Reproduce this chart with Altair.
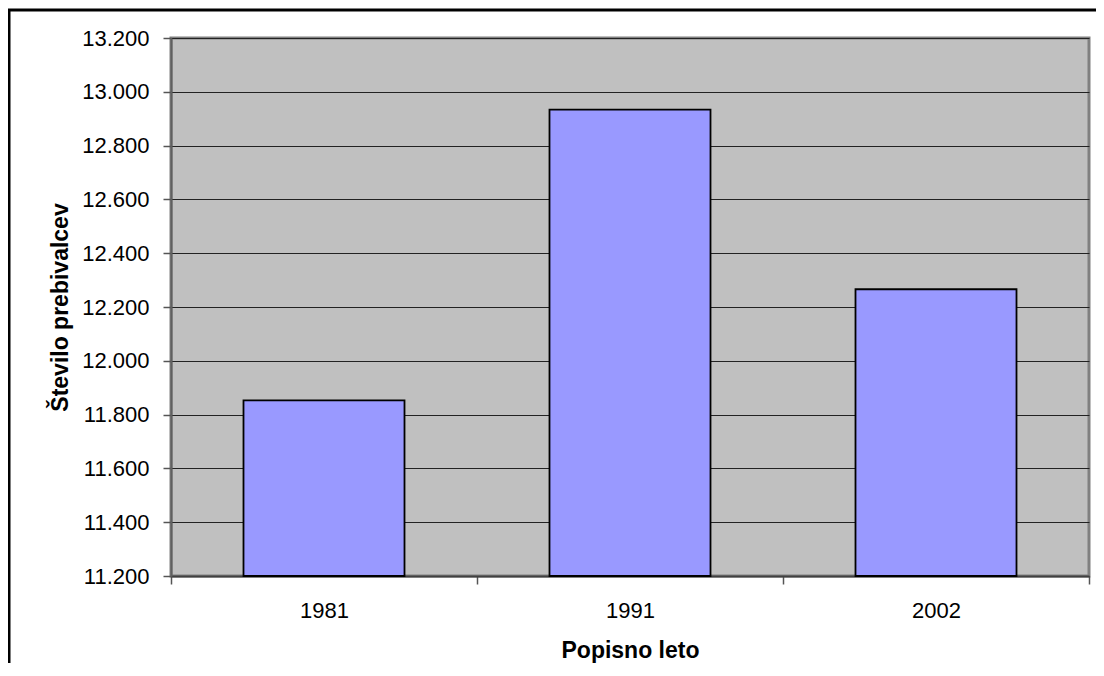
import altair as alt
import pandas as pd

years = ["1981", "1991", "2002"]
population = [11853, 12934, 12266]
y_ticks = [11200, 11400, 11600, 11800, 12000, 12200, 12400, 12600, 12800, 13000, 13200]
Y_MIN, Y_MAX = 11200, 13200

df = pd.DataFrame({"leto": years, "prebivalci": population})

FONT = "Liberation Sans"

bars = alt.Chart(df).mark_bar(
    color="#9999FF", stroke="black", strokeWidth=1.8, width=161
).encode(
    x=alt.X(
        "leto:N",
        sort=years,
        title="Popisno leto",
        scale=alt.Scale(paddingInner=0, paddingOuter=0),
        axis=alt.Axis(
            labelAngle=0,
            tickBand="extent",
            tickSize=8,
            tickColor="#555555",
            tickWidth=1.5,
            domainColor="#404040",
            domainWidth=2,
            labelPadding=16,
            titlePadding=18,
            grid=False,
        ),
    ),
    y=alt.Y(
        "prebivalci:Q",
        title="Število prebivalcev",
        scale=alt.Scale(domain=[Y_MIN, Y_MAX], nice=False, zero=False),
        axis=alt.Axis(
            values=y_ticks,
            labelExpr="replace(format(datum.value, ',d'), ',', '.')",
            tickSize=8,
            tickColor="#555555",
            tickWidth=1.5,
            domainColor="#606060",
            domainWidth=2,
            labelPadding=14,
            titlePadding=9,
            grid=True,
            gridColor="#222222",
            gridWidth=1,
        ),
    ),
    y2=alt.datum(Y_MIN),
)

frame = alt.Chart(alt.Data(values=[{}])).mark_rect(
    fill="transparent", stroke="black", strokeWidth=3
).encode(
    x=alt.value(-162), x2=alt.value(1500), y=alt.value(-28), y2=alt.value(1500)
)

chart = alt.layer(bars, frame).properties(
    width=918,
    height=538,
    autosize=alt.AutoSizeParams(type="none"),
    padding={"left": 163, "top": 30, "right": 7, "bottom": 87},
    background="white",
).configure_view(
    fill="#C0C0C0", stroke="#808080", strokeWidth=3
).configure_axis(
    labelFont=FONT,
    titleFont=FONT,
    labelFontSize=22,
    titleFontSize=23,
    labelColor="black",
    titleColor="black",
    titleFontWeight="bold",
)

chart.save("out.html", embed_options={"renderer": "svg", "actions": False})
